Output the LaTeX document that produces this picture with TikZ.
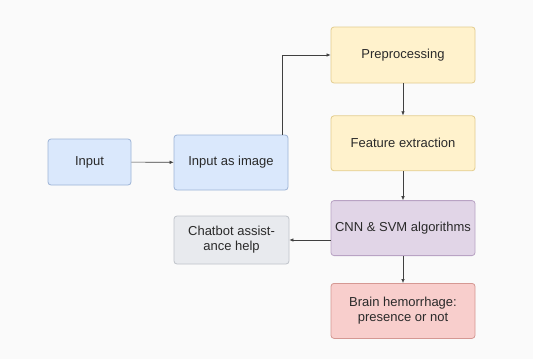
\documentclass[tikz,border=0pt]{standalone}
\usepackage{fontspec}
\setmainfont{Liberation Sans}
\usepackage{xcolor}
\usepackage{tikz}
\usetikzlibrary{calc,arrows.meta,positioning}
\definecolor{bluefill}{HTML}{DAE8FC}
\definecolor{blueline}{HTML}{9DB4D6}
\definecolor{yellowfill}{HTML}{FFF2CC}
\definecolor{yellowline}{HTML}{E3CD8E}
\definecolor{purplefill}{HTML}{E1D5E7}
\definecolor{purpleline}{HTML}{B9A3C4}
\definecolor{redfill}{HTML}{F8CECC}
\definecolor{redline}{HTML}{D59893}
\definecolor{greyfill}{HTML}{E8EAEE}
\definecolor{greyline}{HTML}{BFC3CA}
\definecolor{txt}{HTML}{2A2A2A}
\tikzset{
  box/.style={draw, rounded corners=3pt, line width=0.8pt, text centered, align=center, font=\fontsize{13}{15}\selectfont, text=txt, minimum width=144pt, minimum height=55pt, inner sep=2pt},
  inbox/.style={box, fill=bluefill, draw=blueline},
  stepbox/.style={box, fill=yellowfill, draw=yellowline},
  algbox/.style={box, fill=purplefill, draw=purpleline},
  outbox/.style={box, fill=redfill, draw=redline},
  helpbox/.style={box, fill=greyfill, draw=greyline},
  link/.style={draw=black!75, line width=0.6pt, -{Latex[length=4pt,width=3.5pt]}}
}

\begin{document}
\begin{tikzpicture}[x=1pt, y=-1pt, node distance=29pt]
  \fill[black!2] (0,0) rectangle (533,359);
  \useasboundingbox (0,0) rectangle (533,359);
  % left column
  \node[inbox, minimum width=83pt, minimum height=46pt] (input) at (89.5,162) {Input};
  \node[inbox, minimum width=114pt] (image) at (231,162.5) {Input as image};
  \node[helpbox, minimum width=115pt, minimum height=48pt] (chat) at (231.5,240) {Chatbot assist-\\ance help};
  % right column
  \node[stepbox, minimum height=56pt] (pre) at (403,55) {Preprocessing};
  \node[stepbox, below=32pt of pre] (feat) {Feature extraction};
  \node[algbox, below=of feat] (cnn) {CNN \& SVM algorithms};
  \node[outbox, below=27pt of cnn] (brain) {Brain hemorrhage:\\presence or not};
  % connectors
  \draw[link] (input) -- (image);
  \draw[link] ([xshift=-6pt]image.north east) |- (pre.west);
  \draw[link] (pre) -- (feat);
  \draw[link] (feat) -- (cnn);
  \draw[link] (chat.east -| cnn.west) -- (chat.east);
  \draw[link] (cnn) -- (brain);
\end{tikzpicture}
\end{document}
